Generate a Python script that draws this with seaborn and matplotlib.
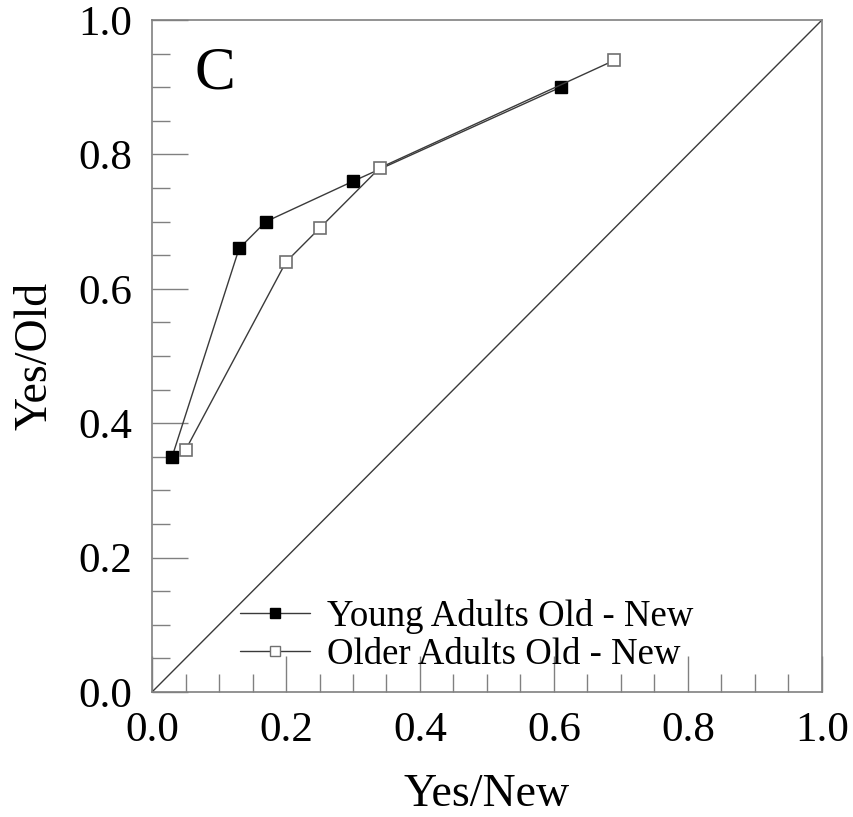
import matplotlib
matplotlib.use("Agg")
import matplotlib.pyplot as plt
from matplotlib.lines import Line2D
from matplotlib.ticker import MultipleLocator
import seaborn as sns
import pandas as pd

young_x = [0.03, 0.13, 0.17, 0.30, 0.61]
young_y = [0.35, 0.66, 0.70, 0.76, 0.90]
older_x = [0.05, 0.20, 0.25, 0.34, 0.69]
older_y = [0.36, 0.64, 0.69, 0.78, 0.94]
labels = ["Young Adults Old - New", "Older Adults Old - New"]
tick_vals = [0.0, 0.2, 0.4, 0.6, 0.8, 1.0]

sns.set_theme(style="ticks")
plt.rcParams['font.family'] = ['Liberation Serif', 'DejaVu Serif']
plt.rcParams['text.color'] = 'black'

fig = plt.figure(figsize=(8.54, 8.17), dpi=100)
ax = fig.add_axes([0.178, 0.153, 0.7845, 0.8225])

line_c = "#3a3a3a"
ax.plot([0, 1], [0, 1], color=line_c, lw=1.0, zorder=1)

dy = pd.DataFrame({"x": young_x, "y": young_y})
do = pd.DataFrame({"x": older_x, "y": older_y})
sns.lineplot(data=dy, x="x", y="y", sort=False, ax=ax, color=line_c, lw=1.0,
             marker="s", markersize=8.5, markerfacecolor="black",
             markeredgecolor="black", markeredgewidth=1.0, zorder=3)
sns.lineplot(data=do, x="x", y="y", sort=False, ax=ax, color=line_c, lw=1.0,
             marker="s", markersize=8.5, markerfacecolor="white",
             markeredgecolor="#707070", markeredgewidth=1.2, zorder=3)

ax.set_xlim(0, 1)
ax.set_ylim(0, 1)
ax.set_xticks(tick_vals)
ax.set_yticks(tick_vals)
ax.set_xticklabels([f"{v:.1f}" for v in tick_vals])
ax.set_yticklabels([f"{v:.1f}" for v in tick_vals])
ax.xaxis.set_minor_locator(MultipleLocator(0.05))
ax.yaxis.set_minor_locator(MultipleLocator(0.05))
ax.tick_params(axis="both", which="major", direction="in", length=26, width=1.0,
               color="#808080", labelsize=31, labelcolor="black")
ax.tick_params(axis="both", which="minor", direction="in", length=13, width=1.0,
               color="#808080")
ax.tick_params(axis="x", which="major", pad=14)
ax.tick_params(axis="y", which="major", pad=14)
ax.tick_params(bottom=True, left=True, top=False, right=False, which="both")
for s in ax.spines.values():
    s.set_color("#808080")
    s.set_linewidth(1.2)
    s.set_visible(True)

ax.set_xlabel("Yes/New", fontsize=33, labelpad=17, color="black")
ax.set_ylabel("Yes/Old", fontsize=33, labelpad=16, color="black")

ax.text(0.094, 0.92, "C", transform=ax.transAxes, fontsize=44, ha="center",
        va="center", color="black")

handles = [
    Line2D([], [], color=line_c, lw=1.0, marker="s", markersize=7,
           markerfacecolor="black", markeredgecolor="black"),
    Line2D([], [], color=line_c, lw=1.0, marker="s", markersize=7,
           markerfacecolor="white", markeredgecolor="#707070"),
]
leg = ax.legend(handles, labels, loc="lower left", bbox_to_anchor=(0.11, 0.008),
                frameon=False, fontsize=26.5, handlelength=1.9, handletextpad=0.45,
                labelspacing=0.1, borderaxespad=0)
for t in leg.get_texts():
    t.set_color("black")

fig.savefig("out.png", dpi=100)
